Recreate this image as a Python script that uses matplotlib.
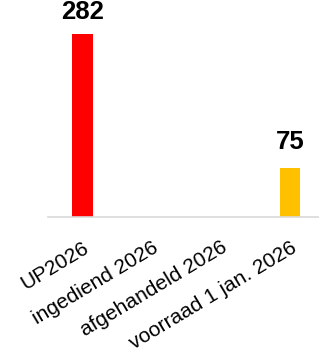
import matplotlib
matplotlib.use("Agg")
import matplotlib.pyplot as plt

# data
categories = ["UP2026", "ingediend 2026", "afgehandeld 2026", "voorraad 1 jan. 2026"]
values = [282, 0, 0, 75]
colors = ["#ff0000", "#ffc000", "#ffc000", "#ffc000"]

plt.rcParams['font.family'] = ['Liberation Sans', 'DejaVu Sans']

fig = plt.figure(figsize=(3.19, 3.57), dpi=100)
ax = fig.add_axes([48 / 319, 140 / 357, 1 - 48 / 319, 1 - 140 / 357])

x = list(range(len(categories)))
ax.bar(x, values, width=0.30, color=colors, zorder=2)

# waarden boven de balken
offsets = [7, 10]
shown = [(i, v) for i, v in enumerate(values) if v > 0]
for (i, v), off in zip(shown, offsets):
    ax.annotate(str(v), (i, v), xytext=(0, off), textcoords="offset points",
                ha="center", va="bottom", fontsize=18.5, fontweight="bold")

ax.set_xlim(-0.5, 3.42)
ax.set_ylim(0, 334.4)

ax.set_xticks(x)
ax.set_xticklabels(categories, rotation=31, ha="right", va="top",
                   rotation_mode="anchor", fontsize=15)
ax.tick_params(axis="x", length=0, pad=15)
ax.set_yticks([])

for side in ["top", "right", "left"]:
    ax.spines[side].set_visible(False)
ax.spines["bottom"].set_color("#d9d9d9")
ax.spines["bottom"].set_linewidth(1.2)

fig.savefig("out.png", dpi=100)
